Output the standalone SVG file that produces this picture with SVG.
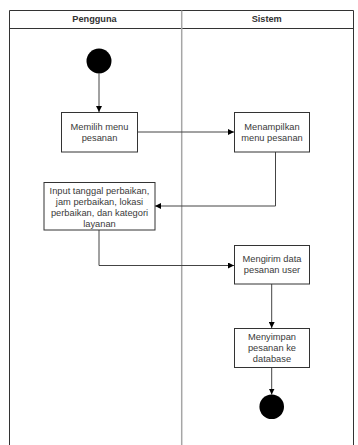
<svg xmlns="http://www.w3.org/2000/svg" width="358" height="445" viewBox="0 0 358 445">
<style>
.lane{fill:none;stroke:#333;stroke-width:1}
.div{stroke:#a6a6a6;stroke-width:1.5}
.hdr{font-family:"Liberation Sans",Arial,sans-serif;font-size:9.2px;font-weight:bold;fill:#333;text-anchor:middle}
.box{fill:#fff;stroke:#333;stroke-width:1}
.t{font-family:"Liberation Sans",Arial,sans-serif;font-size:9.3px;fill:#3a3a3a;text-anchor:middle}
.c{fill:none;stroke:#444;stroke-width:1}
.dot{fill:#000}
</style>
<defs>
<marker id="arr" viewBox="0 0 10 10" refX="10" refY="5" markerWidth="6" markerHeight="6" markerUnits="userSpaceOnUse" orient="auto">
<path d="M0,0 L10,5 L0,10 Z" fill="#000"/>
</marker>
</defs>
<rect width="358" height="445" fill="#fff"/>
<g id="swimlanes">
<path class="lane" d="M9.5,446 V10.5 H353.5 V446"/>
<line class="lane" x1="9.5" y1="28.5" x2="353.5" y2="28.5"/>
<line class="div" x1="181.7" y1="10.5" x2="181.7" y2="446"/>
<text class="hdr" x="94.5" y="22.3">Pengguna</text>
<text class="hdr" x="266.7" y="22.3">Sistem</text>
</g>
<g id="connectors">
<line class="c" x1="99" y1="73.5" x2="99" y2="112" marker-end="url(#arr)"/>
<line class="c" x1="137" y1="132" x2="234" y2="132" marker-end="url(#arr)"/>
<path class="c" d="M275.5,152 V206 H155" marker-end="url(#arr)"/>
<path class="c" d="M99,230 V265.5 H234" marker-end="url(#arr)"/>
<line class="c" x1="271.7" y1="284" x2="271.7" y2="328" marker-end="url(#arr)"/>
<line class="c" x1="271.7" y1="367.5" x2="271.7" y2="394.5" marker-end="url(#arr)"/>
</g>
<g id="start">
<circle class="dot" cx="99" cy="61" r="12.5"/>
</g>
<g id="memilih">
<rect class="box" x="61.5" y="112.5" width="76" height="39.5"/>
<text class="t" x="99.5" y="129.8">Memilih menu</text>
<text class="t" x="99.5" y="140.8">pesanan</text>
</g>
<g id="menampilkan">
<rect class="box" x="234.5" y="112.5" width="75" height="39.5"/>
<text class="t" x="272" y="129.8">Menampilkan</text>
<text class="t" x="272" y="140.8">menu pesanan</text>
</g>
<g id="input">
<rect class="box" x="44" y="182.5" width="111" height="47.5"/>
<text class="t" x="99.5" y="194">Input tanggal perbaikan,</text>
<text class="t" x="99.5" y="204.9">jam perbaikan, lokasi</text>
<text class="t" x="99.5" y="215.8">perbaikan, dan kategori</text>
<text class="t" x="99.5" y="226.7">layanan</text>
</g>
<g id="mengirim">
<rect class="box" x="234.5" y="245.5" width="75" height="38.5"/>
<text class="t" x="272" y="262.3">Mengirim data</text>
<text class="t" x="272" y="273.3">pesanan user</text>
</g>
<g id="menyimpan">
<rect class="box" x="234.5" y="328.5" width="75" height="39"/>
<text class="t" x="272" y="340">Menyimpan</text>
<text class="t" x="272" y="351.2">pesanan ke</text>
<text class="t" x="272" y="362.3">database</text>
</g>
<g id="end">
<circle class="dot" cx="271.7" cy="406.7" r="12.3"/>
</g>
</svg>
